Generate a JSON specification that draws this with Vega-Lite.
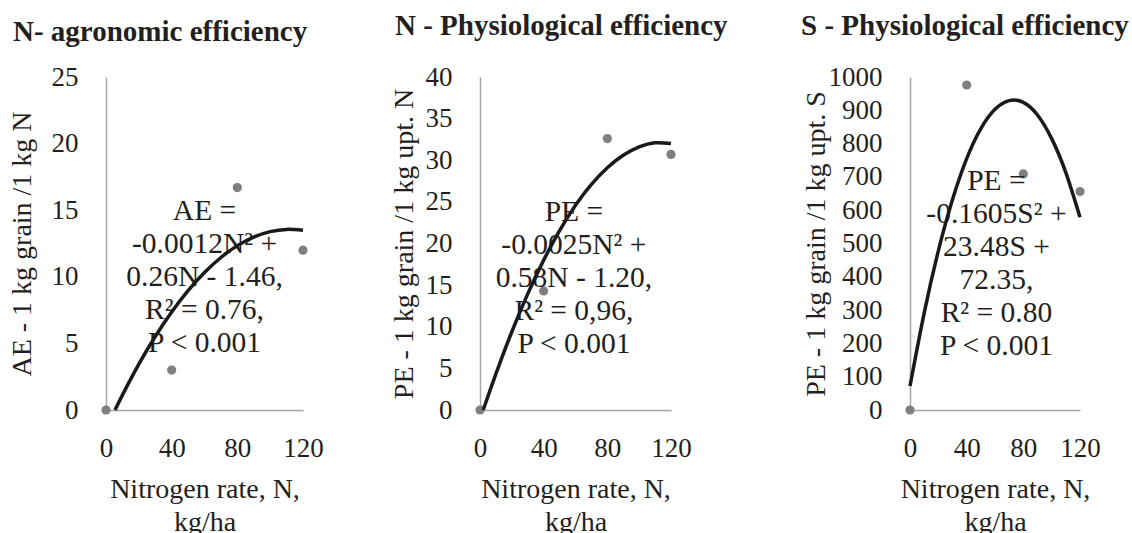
{
  "$schema": "https://vega.github.io/schema/vega-lite/v6.json",
  "padding": {"left": 8, "top": 12, "right": 0, "bottom": 0},
  "background": "white",
  "config": {
    "font": "Liberation Serif",
    "view": {"stroke": null},
    "axis": {
      "grid": false, "ticks": false, "tickSize": 0, "labelFlush": false, "labelOverlap": false,
      "domainColor": "#a6a6a6", "domainWidth": 1.5,
      "labelFont": "Liberation Serif", "labelFontSize": 27, "labelColor": "#231f20",
      "titleFont": "Liberation Serif", "titleFontSize": 28, "titleFontWeight": "normal", "titleColor": "#231f20"
    },
    "axisX": {"labelPadding": 25, "titlePadding": 14, "titleLineHeight": 33},
    "axisY": {"labelPadding": 28, "format": "d"},
    "title": {"font": "Liberation Serif", "fontSize": 29, "fontWeight": "bold", "anchor": "start", "frame": "bounds", "color": "#231f20", "dx": 5}
  },
  "datasets": {
    "pts1": [{"N": 0, "v": 0}, {"N": 40, "v": 3}, {"N": 80, "v": 16.7}, {"N": 120, "v": 12}],
    "fit1": [
      {"N": 5.5, "v": 0}, {"N": 10, "v": 1.12}, {"N": 20, "v": 3.44}, {"N": 30, "v": 5.52},
      {"N": 40, "v": 7.36}, {"N": 50, "v": 8.96}, {"N": 60, "v": 10.32}, {"N": 70, "v": 11.45},
      {"N": 80, "v": 12.34}, {"N": 90, "v": 12.98}, {"N": 100, "v": 13.39}, {"N": 110, "v": 13.56}, {"N": 120, "v": 13.49}
    ],
    "eq1": [{"N": 60, "v": 14.94, "label": "AE =\n-0.0012N² +\n0.26N - 1.46,\nR² = 0.76,\nP < 0.001"}],
    "pts2": [{"N": 0, "v": 0}, {"N": 40, "v": 14.3}, {"N": 80, "v": 32.6}, {"N": 120, "v": 30.7}],
    "fit2": [
      {"N": 2, "v": 0}, {"N": 10, "v": 4.35}, {"N": 20, "v": 9.4}, {"N": 30, "v": 13.95},
      {"N": 40, "v": 18.0}, {"N": 50, "v": 21.55}, {"N": 60, "v": 24.6}, {"N": 70, "v": 27.1},
      {"N": 80, "v": 29.1}, {"N": 90, "v": 30.6}, {"N": 100, "v": 31.6}, {"N": 110, "v": 32.1}, {"N": 120, "v": 32.0}
    ],
    "eq2": [{"N": 59, "v": 23.8, "label": "PE =\n-0.0025N² +\n0.58N - 1.20,\nR² = 0,96,\nP < 0.001"}],
    "pts3": [{"N": 0, "v": 0}, {"N": 40, "v": 976}, {"N": 80, "v": 709}, {"N": 120, "v": 656}],
    "fit3": [
      {"N": 0, "v": 72}, {"N": 10, "v": 291}, {"N": 20, "v": 478}, {"N": 30, "v": 632},
      {"N": 40, "v": 755}, {"N": 50, "v": 845}, {"N": 60, "v": 903}, {"N": 70, "v": 929},
      {"N": 80, "v": 924}, {"N": 90, "v": 886}, {"N": 100, "v": 815}, {"N": 110, "v": 713}, {"N": 120, "v": 579}
    ],
    "eq3": [{"N": 61, "v": 688, "label": "PE =\n-0.1605S² +\n23.48S +\n72.35,\nR² = 0.80\nP < 0.001"}]
  },
  "hconcat": [
    {
      "title": {"text": "N- agronomic efficiency", "offset": 16},
      "width": 197, "height": 333,
      "layer": [
        {"data": {"name": "pts1"}, "mark": {"type": "circle", "size": 85, "color": "#7f7f7f", "opacity": 1},
         "encoding": {
           "x": {"field": "N", "type": "quantitative", "scale": {"domain": [0, 120], "nice": false}, "axis": {"values": [0, 40, 80, 120], "tickCount": 20, "title": ["Nitrogen rate, N,", "kg/ha"]}},
           "y": {"field": "v", "type": "quantitative", "scale": {"domain": [0, 25], "nice": false}, "axis": {"values": [0, 5, 10, 15, 20, 25], "tickCount": 20, "labelOverlap": false, "title": "AE - 1 kg grain /1 kg N", "titlePadding": 15}}
         }},
        {"data": {"name": "eq1"}, "mark": {"type": "text", "fontSize": 29.5, "lineHeight": 33, "lineBreak": "\n", "align": "center", "baseline": "middle", "color": "#231f20"},
         "encoding": {"x": {"field": "N", "type": "quantitative"}, "y": {"field": "v", "type": "quantitative"}, "text": {"field": "label"}}},
        {"data": {"name": "fit1"}, "mark": {"type": "line", "color": "#1a1a1a", "strokeWidth": 3.5, "interpolate": "natural"},
         "encoding": {"x": {"field": "N", "type": "quantitative"}, "y": {"field": "v", "type": "quantitative"}}}
      ]
    },
    {
      "title": {"text": "N - Physiological efficiency", "offset": 22},
      "width": 253, "height": 333,
      "layer": [
        {"data": {"name": "pts2"}, "mark": {"type": "circle", "size": 85, "color": "#7f7f7f", "opacity": 1},
         "encoding": {
           "x": {"field": "N", "type": "quantitative", "scale": {"domain": [0, 120], "nice": false, "range": [0, 191]}, "axis": {"values": [0, 40, 80, 120], "tickCount": 20, "title": ["Nitrogen rate, N,", "kg/ha"]}},
           "y": {"field": "v", "type": "quantitative", "scale": {"domain": [0, 40], "nice": false}, "axis": {"values": [0, 5, 10, 15, 20, 25, 30, 35, 40], "tickCount": 20, "labelOverlap": false, "title": "PE - 1 kg grain /1 kg upt. N", "titlePadding": 7}}
         }},
        {"data": {"name": "eq2"}, "mark": {"type": "text", "fontSize": 29.5, "lineHeight": 33, "lineBreak": "\n", "align": "center", "baseline": "middle", "color": "#231f20"},
         "encoding": {"x": {"field": "N", "type": "quantitative"}, "y": {"field": "v", "type": "quantitative"}, "text": {"field": "label"}}},
        {"data": {"name": "fit2"}, "mark": {"type": "line", "color": "#1a1a1a", "strokeWidth": 3.5, "interpolate": "natural"},
         "encoding": {"x": {"field": "N", "type": "quantitative"}, "y": {"field": "v", "type": "quantitative"}}}
      ]
    },
    {
      "title": {"text": "S - Physiological efficiency", "offset": 22, "dx": -1},
      "width": 170, "height": 333,
      "layer": [
        {"data": {"name": "pts3"}, "mark": {"type": "circle", "size": 85, "color": "#7f7f7f", "opacity": 1},
         "encoding": {
           "x": {"field": "N", "type": "quantitative", "scale": {"domain": [0, 120], "nice": false}, "axis": {"values": [0, 40, 80, 120], "tickCount": 20, "title": ["Nitrogen rate, N,", "kg/ha"]}},
           "y": {"field": "v", "type": "quantitative", "scale": {"domain": [0, 1000], "nice": false}, "axis": {"values": [0, 100, 200, 300, 400, 500, 600, 700, 800, 900, 1000], "tickCount": 20, "labelOverlap": false, "labelSeparation": 0, "title": "PE - 1 kg grain /1 kg upt. S", "titlePadding": -2}}
         }},
        {"data": {"name": "eq3"}, "mark": {"type": "text", "fontSize": 29.5, "lineHeight": 33, "lineBreak": "\n", "align": "center", "baseline": "middle", "color": "#231f20"},
         "encoding": {"x": {"field": "N", "type": "quantitative"}, "y": {"field": "v", "type": "quantitative"}, "text": {"field": "label"}}},
        {"data": {"name": "fit3"}, "mark": {"type": "line", "color": "#1a1a1a", "strokeWidth": 3.5, "interpolate": "natural"},
         "encoding": {"x": {"field": "N", "type": "quantitative"}, "y": {"field": "v", "type": "quantitative"}}}
      ]
    }
  ],
  "spacing": 177,
  "bounds": "flush"
}
